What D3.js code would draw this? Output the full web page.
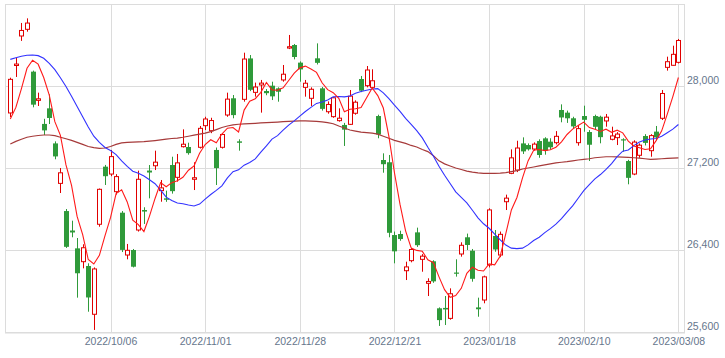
<!DOCTYPE html>
<html><head><meta charset="utf-8">
<script src="https://cdn.jsdelivr.net/npm/d3@7"></script>
<style>html,body{margin:0;padding:0;background:#fff;}svg{display:block;}</style>
</head><body>
<svg id="chart" width="725" height="358"></svg>
<script>
const dates = [
"2022/09/08","2022/09/09","2022/09/12","2022/09/13","2022/09/14","2022/09/15","2022/09/16","2022/09/20","2022/09/21","2022/09/22","2022/09/26","2022/09/27","2022/09/28","2022/09/29","2022/09/30",
"2022/10/03","2022/10/04","2022/10/05","2022/10/06","2022/10/07","2022/10/11","2022/10/12","2022/10/13","2022/10/14","2022/10/17","2022/10/18","2022/10/19","2022/10/20","2022/10/21","2022/10/24","2022/10/25","2022/10/26","2022/10/27","2022/10/28","2022/10/31",
"2022/11/01","2022/11/02","2022/11/04","2022/11/07","2022/11/08","2022/11/09","2022/11/10","2022/11/11","2022/11/14","2022/11/15","2022/11/16","2022/11/17","2022/11/18","2022/11/21","2022/11/22","2022/11/24","2022/11/25","2022/11/28","2022/11/29","2022/11/30",
"2022/12/01","2022/12/02","2022/12/05","2022/12/06","2022/12/07","2022/12/08","2022/12/09","2022/12/12","2022/12/13","2022/12/14","2022/12/15","2022/12/16","2022/12/19","2022/12/20","2022/12/21","2022/12/22","2022/12/23","2022/12/26","2022/12/27","2022/12/28","2022/12/29","2022/12/30",
"2023/01/04","2023/01/05","2023/01/06","2023/01/10","2023/01/11","2023/01/12","2023/01/13","2023/01/16","2023/01/17","2023/01/18","2023/01/19","2023/01/20","2023/01/23","2023/01/24","2023/01/25","2023/01/26","2023/01/27","2023/01/30","2023/01/31",
"2023/02/01","2023/02/02","2023/02/03","2023/02/06","2023/02/07","2023/02/08","2023/02/09","2023/02/10","2023/02/13","2023/02/14","2023/02/15","2023/02/16","2023/02/17","2023/02/20","2023/02/21","2023/02/22","2023/02/24","2023/02/27","2023/02/28",
"2023/03/01","2023/03/02","2023/03/03","2023/03/06","2023/03/07","2023/03/08"];

const open = [27737,28200,28488,28553,28140,27860,27630,27782,27440,27050,26780,26590,26416,26286,26244,
25773,26651,27213,27141,26969,26764,26351,26400,26595,26790,27175,27222,26979,26904,27229,27109,27408,27405,27090,27402,
27613,27564,27376,27402,27717,27880,27460,27870,28269,27938,28010,27951,28003,27977,28059,28370,28400,28228,27987,27880,
28270,27977,27749,27701,27662,27620,27626,27734,28068,28003,27987,27707,27278,27256,26546,26556,26198,26296,26572,26309,26075,26290,
25831,25835,25733,26180,26361,26524,26393,25840,25912,26254,26537,26351,26871,27148,27180,27440,27424,27385,27463,
27489,27457,27447,27766,27740,27685,27447,27707,27551,27707,27700,27659,27480,27496,27480,27268,27141,27324,27512,
27369,27555,27685,28182,28202,28231];
const high = [28081,28273,28615,28660,28150,27935,27680,27919,27460,27200,26800,26686,26517,26456,26270,
26230,27000,27230,27376,27140,26780,26459,26410,27174,26817,27229,27369,27083,26979,27310,27337,27577,27447,27256,27610,
27700,27690,27400,27540,27935,27912,27480,28325,28302,28033,28059,27970,28042,27987,28205,28498,28410,28240,28059,27987,
28416,27990,27850,27890,27782,27640,27961,27860,28098,28195,28163,27720,27343,27327,26580,26588,26286,26420,26618,26360,26124,26300,
25840,25951,26026,26309,26475,26560,26410,25935,26150,26807,26595,26580,26940,27382,27466,27499,27440,27450,27480,
27500,27490,27560,27821,27760,27700,27620,27808,27570,27720,27710,27727,27603,27550,27490,27280,27470,27440,27530,
27530,27610,27961,28286,28393,28459];
const low = [27697,28088,28440,28530,27792,27805,27522,27629,27285,26956,26420,26524,25935,26221,25798,
25620,26627,27034,27120,26940,26380,26309,26230,26580,26654,26904,27180,26871,26870,26950,27067,27400,27330,26985,27390,
27570,27540,27034,27390,27700,27685,27369,27847,27950,27896,27740,27910,27863,27847,28042,28360,28260,28042,27896,27805,
28210,27760,27730,27690,27652,27415,27620,27720,27940,27987,27977,27490,27154,26524,26270,26490,26107,26280,26430,26188,25951,26080,
25659,25668,25720,26140,26335,26400,26091,25749,25880,26230,26383,26330,26790,27140,27160,27337,27370,27370,27300,
27330,27380,27430,27646,27640,27580,27418,27554,27268,27580,27441,27603,27470,27424,27359,27041,27130,27300,27420,
27310,27470,27668,28150,28200,28220];
const close = [28065,28214,28542,28614,27818,27875,27567,27688,27313,27153,26431,26571,26173,26422,25937,
26215,26992,27120,27311,27116,26401,26397,26237,27090,26775,27156,27257,27006,26890,26974,27250,27432,27345,27105,27587,
27678,27663,27199,27527,27872,27716,27446,28263,27963,27990,28028,27930,27899,27944,28115,28383,28283,28162,28027,27968,
28226,27777,27820,27885,27686,27574,27901,27842,27954,28156,28051,27527,27237,26568,26387,26507,26235,26405,26447,26340,26093,26094,
25716,25820,25973,26175,26446,26449,26119,25822,26138,26791,26405,26553,26906,27299,27395,27362,27382,27433,27327,
27370,27402,27509,27693,27685,27606,27584,27670,27427,27602,27501,27696,27513,27531,27473,27104,27453,27423,27445,
27516,27498,27927,28237,28309,28444];

// 5-day moving average (red), read per trading day
const ma5 = [27678,27791,27975,28173,28251,28213,28083,27912,27652,27519,27230,27031,26728,26550,26307,
26264,26348,26537,26715,26951,26988,26869,26692,26648,26580,26731,26903,27057,27017,27057,27075,27110,27178,27221,27344,
27429,27476,27446,27531,27588,27595,27552,27765,27852,27876,27938,28035,27962,27958,27983,28054,28125,28177,28194,28165,
28133,28032,27964,27935,27879,27748,27773,27778,27791,27885,27981,27906,27785,27508,27154,26845,26587,26420,26396,26387,26304,26276,
26138,26013,25939,25956,26026,26173,26232,26202,26195,26264,26255,26342,26559,26791,26912,27103,27269,27374,27380,
27370,27378,27403,27455,27527,27579,27615,27648,27594,27578,27557,27579,27548,27569,27543,27463,27415,27397,27380,
27388,27467,27562,27725,27897,28083];
// 25-day moving average (blue)
const ma25 = [28260,28275,28290,28300,28302,28296,28270,28220,28160,28080,27995,27900,27800,27700,27600,
27510,27450,27400,27370,27330,27270,27215,27169,27148,27121,27085,27047,26985,26916,26883,26858,26852,26839,26830,26848,
26897,26941,26982,27026,27104,27164,27182,27228,27254,27289,27354,27415,27482,27516,27569,27618,27660,27706,27751,27791,
27830,27844,27863,27894,27898,27894,27903,27929,27946,27958,27971,27974,27933,27877,27813,27752,27685,27625,27565,27494,27402,27315,
27217,27129,27049,26967,26914,26859,26788,26714,26656,26612,26554,26498,26448,26418,26413,26418,26450,26492,26525,
26569,26609,26652,26706,26770,26830,26905,26979,27037,27094,27136,27186,27242,27310,27364,27376,27418,27453,27474,
27483,27487,27510,27544,27579,27624];
// 75-day moving average (brown)
const ma75 = [27434,27460,27480,27500,27510,27517,27522,27522,27515,27500,27485,27470,27450,27430,27410,
27398,27392,27395,27410,27430,27445,27450,27452,27455,27457,27462,27468,27475,27482,27488,27492,27500,27510,27520,27530,
27540,27555,27575,27595,27610,27620,27627,27630,27633,27636,27640,27642,27645,27648,27652,27655,27658,27659,27659,27658,
27655,27650,27642,27632,27610,27590,27571,27560,27550,27545,27540,27530,27510,27490,27470,27455,27440,27420,27405,27380,27360,27320,
27270,27240,27220,27200,27185,27170,27160,27152,27148,27148,27148,27150,27155,27165,27175,27190,27200,27210,27220,
27230,27240,27250,27256,27262,27270,27278,27285,27290,27300,27305,27310,27310,27308,27306,27304,27300,27296,27290,
27285,27287,27290,27294,27296,27298];

const yTicks = [25600, 26400, 27200, 28000];
const xTickLabels = ["2022/10/06","2022/11/01","2022/11/28","2022/12/21","2023/01/18","2023/02/10","2023/03/08"];

const svg = d3.select("#chart");
const L = 5, R = 684, T = 4, B = 332;
const x = d3.scalePoint().domain(dates).range([10.3, 678.4]);
const y = d3.scaleLinear().domain([25600, 28800]).range([B, T]);
const gridColor = "#dcdcdc";
const labelColor = "#66768c";
const font = "'Liberation Sans', Arial, sans-serif";

// grid
const g = svg.append("g");
g.selectAll("line.hg").data(yTicks).enter().append("line")
  .attr("x1", L).attr("x2", R)
  .attr("y1", d => Math.round(y(d)) + 0.5).attr("y2", d => Math.round(y(d)) + 0.5)
  .attr("stroke", gridColor).attr("stroke-width", 1);
g.selectAll("line.vg").data(xTickLabels).enter().append("line")
  .attr("x1", d => Math.round(x(d)) + 0.5).attr("x2", d => Math.round(x(d)) + 0.5)
  .attr("y1", T).attr("y2", B)
  .attr("stroke", gridColor).attr("stroke-width", 1);
g.append("rect").attr("x", L + 0.5).attr("y", T + 0.5).attr("width", R - L).attr("height", B - T + 0.5)
  .attr("fill", "none").attr("stroke", gridColor).attr("stroke-width", 1);

// axes (labels only)
const yAxis = d3.axisRight(y).tickValues(yTicks).tickSize(0).tickFormat(d3.format(","));
const ya = svg.append("g").attr("transform", `translate(${R + 3},0)`).call(yAxis);
ya.select(".domain").remove();
ya.selectAll("text").attr("fill", labelColor).attr("font-family", font).attr("font-size", "10.5px")
  .attr("x", 0).attr("dy", "-0.25em");

const xAxis = d3.axisBottom(x).tickValues(xTickLabels).tickSize(0);
const xa = svg.append("g").attr("transform", `translate(0,${B})`).call(xAxis);
xa.select(".domain").remove();
xa.selectAll("text").attr("fill", labelColor).attr("font-family", font).attr("font-size", "10.5px")
  .attr("y", 6).attr("dy", "0.71em");

// candles
const idx = d3.range(dates.length);
const upC = "#e00000", dnC = "#2f9a3a";
const cg = svg.append("g");
cg.selectAll("line.wick").data(idx).enter().append("line")
  .attr("x1", i => Math.round(x(dates[i])) + 0.5).attr("x2", i => Math.round(x(dates[i])) + 0.5)
  .attr("y1", i => y(high[i])).attr("y2", i => y(low[i]))
  .attr("stroke", i => close[i] >= open[i] ? upC : dnC).attr("stroke-width", 1);
cg.selectAll("rect.body").data(idx).enter().append("rect")
  .attr("x", i => close[i] >= open[i] ? Math.round(x(dates[i])) - 1.5 : Math.round(x(dates[i])) - 2)
  .attr("width", i => close[i] >= open[i] ? 4 : 5)
  .attr("y", i => y(Math.max(open[i], close[i])))
  .attr("height", i => Math.max(1.2, Math.abs(y(open[i]) - y(close[i]))))
  .attr("fill", i => close[i] >= open[i] ? "#ffffff" : dnC)
  .attr("stroke", i => close[i] >= open[i] ? upC : "none")
  .attr("stroke-width", 1);

// moving averages
const line = arr => d3.line().x((d, i) => x(dates[i])).y(d => y(d))(arr);
svg.append("path").attr("d", line(ma75)).attr("fill", "none").attr("stroke", "#a63a3a").attr("stroke-width", 1.2);
svg.append("path").attr("d", line(ma25)).attr("fill", "none").attr("stroke", "#3232ff").attr("stroke-width", 1.1);
svg.append("path").attr("d", line(ma5)).attr("fill", "none").attr("stroke", "#ff1a1a").attr("stroke-width", 1.1);
</script>
</body></html>
